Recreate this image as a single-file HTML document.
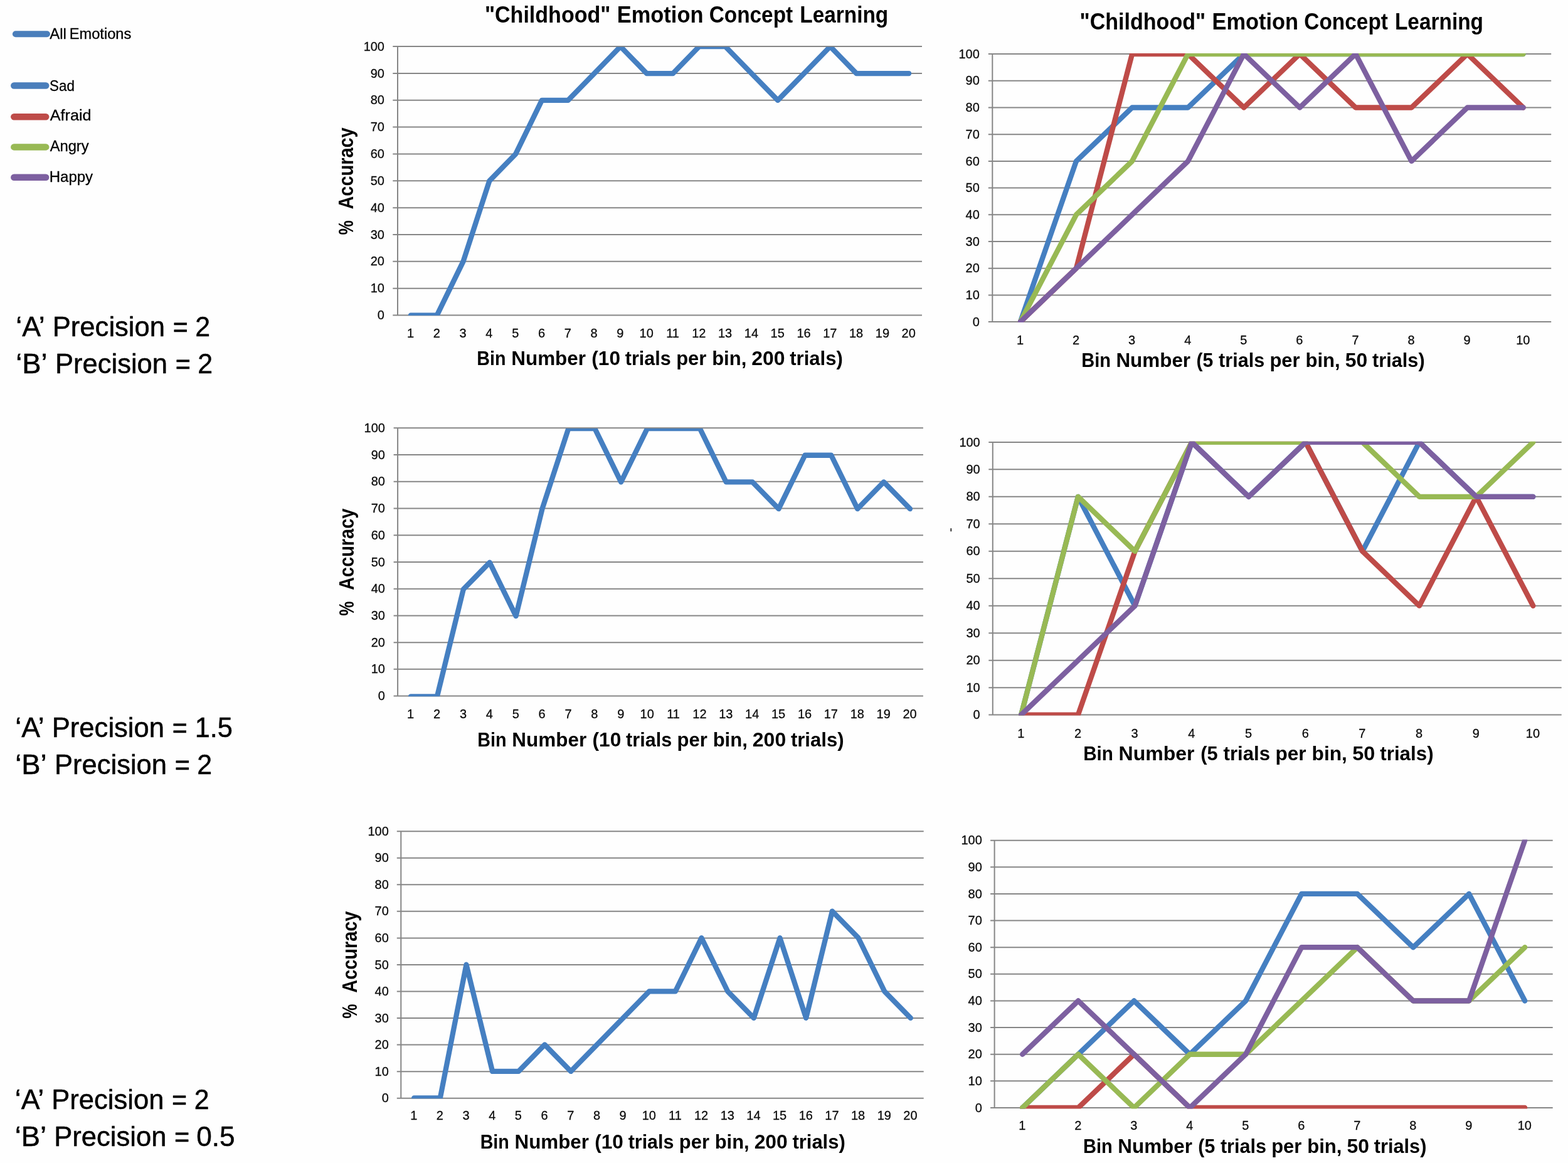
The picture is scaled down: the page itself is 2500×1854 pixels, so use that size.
<!DOCTYPE html>
<html lang="en"><head><meta charset="utf-8"><title>Childhood Emotion Concept Learning</title>
<style>
html,body{margin:0;padding:0;background:#fff;}
body{width:2500px;height:1854px;overflow:hidden;}
svg{display:block;}
text{white-space:pre;}
</style></head><body>
<svg width="2500" height="1854" viewBox="0 0 2500 1854" font-family="'Liberation Sans', Arial, Helvetica, sans-serif">
<rect width="2500" height="1854" fill="#fefefe"/>
<path d="M626.3 502.5H1470M626.3 459.66H1470M626.3 416.82H1470M626.3 373.98H1470M626.3 331.14H1470M626.3 288.3H1470M626.3 245.46H1470M626.3 202.62H1470M626.3 159.78H1470M626.3 116.94H1470M626.3 74.1H1470M634 74.1V502.5" stroke="#868686" stroke-width="2" fill="none"/>
<clipPath id="c1"><rect x="634" y="74.7" width="836" height="428.4"/></clipPath>
<g clip-path="url(#c1)" fill="none" stroke-width="8.3" stroke-linejoin="round" stroke-linecap="round">
<polyline points="654.9,502.6 696.7,502.6 738.5,416.92 780.3,288.4 822.1,245.56 863.9,159.88 905.7,159.88 947.5,117.04 989.3,74.2 1031.1,117.04 1072.9,117.04 1114.7,74.2 1156.5,74.2 1198.3,117.04 1240.1,159.88 1281.9,117.04 1323.7,74.2 1365.5,117.04 1407.3,117.04 1449.1,117.04" stroke="#457fc1"/>
</g>
<g font-size="21" fill="#0a0a0a" stroke="#0a0a0a" stroke-width="0.3" text-anchor="end">
<text transform="translate(612.95,509.1) scale(0.95,1)">0</text>
<text transform="translate(612.95,466.26) scale(0.95,1)">10</text>
<text transform="translate(612.95,423.42) scale(0.95,1)">20</text>
<text transform="translate(612.95,380.58) scale(0.95,1)">30</text>
<text transform="translate(612.95,337.74) scale(0.95,1)">40</text>
<text transform="translate(612.95,294.9) scale(0.95,1)">50</text>
<text transform="translate(612.95,252.06) scale(0.95,1)">60</text>
<text transform="translate(612.95,209.22) scale(0.95,1)">70</text>
<text transform="translate(612.95,166.38) scale(0.95,1)">80</text>
<text transform="translate(612.95,123.54) scale(0.95,1)">90</text>
<text transform="translate(612.95,80.7) scale(0.95,1)">100</text>
</g>
<g font-size="21" fill="#0a0a0a" stroke="#0a0a0a" stroke-width="0.3" text-anchor="middle">
<text transform="translate(654.5,538.2) scale(0.95,1)">1</text>
<text transform="translate(696.3,538.2) scale(0.95,1)">2</text>
<text transform="translate(738.1,538.2) scale(0.95,1)">3</text>
<text transform="translate(779.9,538.2) scale(0.95,1)">4</text>
<text transform="translate(821.7,538.2) scale(0.95,1)">5</text>
<text transform="translate(863.5,538.2) scale(0.95,1)">6</text>
<text transform="translate(905.3,538.2) scale(0.95,1)">7</text>
<text transform="translate(947.1,538.2) scale(0.95,1)">8</text>
<text transform="translate(988.9,538.2) scale(0.95,1)">9</text>
<text transform="translate(1030.7,538.2) scale(0.95,1)">10</text>
<text transform="translate(1072.5,538.2) scale(0.95,1)">11</text>
<text transform="translate(1114.3,538.2) scale(0.95,1)">12</text>
<text transform="translate(1156.1,538.2) scale(0.95,1)">13</text>
<text transform="translate(1197.9,538.2) scale(0.95,1)">14</text>
<text transform="translate(1239.7,538.2) scale(0.95,1)">15</text>
<text transform="translate(1281.5,538.2) scale(0.95,1)">16</text>
<text transform="translate(1323.3,538.2) scale(0.95,1)">17</text>
<text transform="translate(1365.1,538.2) scale(0.95,1)">18</text>
<text transform="translate(1406.9,538.2) scale(0.95,1)">19</text>
<text transform="translate(1448.7,538.2) scale(0.95,1)">20</text>
</g>
<path d="M1575.8 513.1H2473.2M1575.8 470.4H2473.2M1575.8 427.7H2473.2M1575.8 385H2473.2M1575.8 342.3H2473.2M1575.8 299.6H2473.2M1575.8 256.9H2473.2M1575.8 214.2H2473.2M1575.8 171.5H2473.2M1575.8 128.8H2473.2M1575.8 86.1H2473.2M1582.3 86.1V513.1" stroke="#868686" stroke-width="2" fill="none"/>
<clipPath id="c2"><rect x="1582.3" y="85" width="890.9" height="429.1"/></clipPath>
<g clip-path="url(#c2)" fill="none" stroke-width="8.3" stroke-linejoin="round" stroke-linecap="round">
<polyline points="1626.85,513.1 1715.93,256.9 1805.02,171.5 1894.11,171.5 1983.2,86.1 2072.3,86.1 2161.38,86.1 2250.47,86.1 2339.56,86.1 2428.65,86.1" stroke="#457fc1"/>
<polyline points="1626.85,513.1 1715.93,427.7 1805.02,86.1 1894.11,86.1 1983.2,171.5 2072.3,86.1 2161.38,171.5 2250.47,171.5 2339.56,86.1 2428.65,171.5" stroke="#be4b48"/>
<polyline points="1626.85,513.1 1715.93,342.3 1805.02,256.9 1894.11,86.1 1983.2,86.1 2072.3,86.1 2161.38,86.1 2250.47,86.1 2339.56,86.1 2428.65,86.1" stroke="#98b954"/>
<polyline points="1626.85,513.1 1715.93,427.7 1805.02,342.3 1894.11,256.9 1983.2,86.1 2072.3,171.5 2161.38,86.1 2250.47,256.9 2339.56,171.5 2428.65,171.5" stroke="#7d60a0"/>
</g>
<g font-size="21" fill="#0a0a0a" stroke="#0a0a0a" stroke-width="0.3" text-anchor="end">
<text transform="translate(1561.75,519.7) scale(0.95,1)">0</text>
<text transform="translate(1561.75,477) scale(0.95,1)">10</text>
<text transform="translate(1561.75,434.3) scale(0.95,1)">20</text>
<text transform="translate(1561.75,391.6) scale(0.95,1)">30</text>
<text transform="translate(1561.75,348.9) scale(0.95,1)">40</text>
<text transform="translate(1561.75,306.2) scale(0.95,1)">50</text>
<text transform="translate(1561.75,263.5) scale(0.95,1)">60</text>
<text transform="translate(1561.75,220.8) scale(0.95,1)">70</text>
<text transform="translate(1561.75,178.1) scale(0.95,1)">80</text>
<text transform="translate(1561.75,135.4) scale(0.95,1)">90</text>
<text transform="translate(1561.75,92.7) scale(0.95,1)">100</text>
</g>
<g font-size="21" fill="#0a0a0a" stroke="#0a0a0a" stroke-width="0.3" text-anchor="middle">
<text transform="translate(1626.44,548.6) scale(0.95,1)">1</text>
<text transform="translate(1715.53,548.6) scale(0.95,1)">2</text>
<text transform="translate(1804.62,548.6) scale(0.95,1)">3</text>
<text transform="translate(1893.71,548.6) scale(0.95,1)">4</text>
<text transform="translate(1982.8,548.6) scale(0.95,1)">5</text>
<text transform="translate(2071.89,548.6) scale(0.95,1)">6</text>
<text transform="translate(2160.98,548.6) scale(0.95,1)">7</text>
<text transform="translate(2250.07,548.6) scale(0.95,1)">8</text>
<text transform="translate(2339.16,548.6) scale(0.95,1)">9</text>
<text transform="translate(2428.25,548.6) scale(0.95,1)">10</text>
</g>
<path d="M627.6 1109.6H1471.9M627.6 1066.87H1471.9M627.6 1024.14H1471.9M627.6 981.41H1471.9M627.6 938.68H1471.9M627.6 895.95H1471.9M627.6 853.22H1471.9M627.6 810.49H1471.9M627.6 767.76H1471.9M627.6 725.03H1471.9M627.6 682.3H1471.9M634.1 682.3V1109.6" stroke="#868686" stroke-width="2" fill="none"/>
<clipPath id="c3"><rect x="634.1" y="682.9" width="837.8" height="427.3"/></clipPath>
<g clip-path="url(#c3)" fill="none" stroke-width="8.3" stroke-linejoin="round" stroke-linecap="round">
<polyline points="655.05,1110.3 696.94,1110.3 738.83,939.38 780.72,896.65 822.61,982.11 864.5,811.19 906.38,683 948.28,683 990.16,768.46 1032.06,683 1073.95,683 1115.84,683 1157.72,768.46 1199.62,768.46 1241.51,811.19 1283.39,725.73 1325.29,725.73 1367.18,811.19 1409.07,768.46 1450.95,811.19" stroke="#457fc1"/>
</g>
<g font-size="21" fill="#0a0a0a" stroke="#0a0a0a" stroke-width="0.3" text-anchor="end">
<text transform="translate(613.85,1116.2) scale(0.95,1)">0</text>
<text transform="translate(613.85,1073.47) scale(0.95,1)">10</text>
<text transform="translate(613.85,1030.74) scale(0.95,1)">20</text>
<text transform="translate(613.85,988.01) scale(0.95,1)">30</text>
<text transform="translate(613.85,945.28) scale(0.95,1)">40</text>
<text transform="translate(613.85,902.55) scale(0.95,1)">50</text>
<text transform="translate(613.85,859.82) scale(0.95,1)">60</text>
<text transform="translate(613.85,817.09) scale(0.95,1)">70</text>
<text transform="translate(613.85,774.36) scale(0.95,1)">80</text>
<text transform="translate(613.85,731.63) scale(0.95,1)">90</text>
<text transform="translate(613.85,688.9) scale(0.95,1)">100</text>
</g>
<g font-size="21" fill="#0a0a0a" stroke="#0a0a0a" stroke-width="0.3" text-anchor="middle">
<text transform="translate(654.65,1145.1) scale(0.95,1)">1</text>
<text transform="translate(696.54,1145.1) scale(0.95,1)">2</text>
<text transform="translate(738.43,1145.1) scale(0.95,1)">3</text>
<text transform="translate(780.32,1145.1) scale(0.95,1)">4</text>
<text transform="translate(822.21,1145.1) scale(0.95,1)">5</text>
<text transform="translate(864.1,1145.1) scale(0.95,1)">6</text>
<text transform="translate(905.99,1145.1) scale(0.95,1)">7</text>
<text transform="translate(947.88,1145.1) scale(0.95,1)">8</text>
<text transform="translate(989.76,1145.1) scale(0.95,1)">9</text>
<text transform="translate(1031.65,1145.1) scale(0.95,1)">10</text>
<text transform="translate(1073.55,1145.1) scale(0.95,1)">11</text>
<text transform="translate(1115.43,1145.1) scale(0.95,1)">12</text>
<text transform="translate(1157.32,1145.1) scale(0.95,1)">13</text>
<text transform="translate(1199.21,1145.1) scale(0.95,1)">14</text>
<text transform="translate(1241.11,1145.1) scale(0.95,1)">15</text>
<text transform="translate(1282.99,1145.1) scale(0.95,1)">16</text>
<text transform="translate(1324.88,1145.1) scale(0.95,1)">17</text>
<text transform="translate(1366.78,1145.1) scale(0.95,1)">18</text>
<text transform="translate(1408.66,1145.1) scale(0.95,1)">19</text>
<text transform="translate(1450.55,1145.1) scale(0.95,1)">20</text>
</g>
<path d="M1576.3 1139.6H2489.7M1576.3 1096.13H2489.7M1576.3 1052.66H2489.7M1576.3 1009.19H2489.7M1576.3 965.72H2489.7M1576.3 922.25H2489.7M1576.3 878.78H2489.7M1576.3 835.31H2489.7M1576.3 791.84H2489.7M1576.3 748.37H2489.7M1576.3 704.9H2489.7M1582.8 704.9V1139.6" stroke="#868686" stroke-width="2" fill="none"/>
<clipPath id="c4"><rect x="1582.8" y="703.8" width="906.9" height="436.8"/></clipPath>
<g clip-path="url(#c4)" fill="none" stroke-width="8.3" stroke-linejoin="round" stroke-linecap="round">
<polyline points="1628.14,1139.6 1718.84,791.84 1809.52,965.72 1900.21,704.9 1990.9,791.84 2081.59,704.9 2172.28,878.78 2262.97,704.9 2353.66,791.84 2444.35,791.84" stroke="#457fc1"/>
<polyline points="1628.14,1139.6 1718.84,1139.6 1809.52,878.78 1900.21,704.9 1990.9,704.9 2081.59,704.9 2172.28,878.78 2262.97,965.72 2353.66,791.84 2444.35,965.72" stroke="#be4b48"/>
<polyline points="1628.14,1139.6 1718.84,791.84 1809.52,878.78 1900.21,704.9 1990.9,704.9 2081.59,704.9 2172.28,704.9 2262.97,791.84 2353.66,791.84 2444.35,704.9" stroke="#98b954"/>
<polyline points="1628.14,1139.6 1718.84,1052.66 1809.52,965.72 1900.21,704.9 1990.9,791.84 2081.59,704.9 2172.28,704.9 2262.97,704.9 2353.66,791.84 2444.35,791.84" stroke="#7d60a0"/>
</g>
<g font-size="21" fill="#0a0a0a" stroke="#0a0a0a" stroke-width="0.3" text-anchor="end">
<text transform="translate(1562.65,1146.2) scale(0.95,1)">0</text>
<text transform="translate(1562.65,1102.73) scale(0.95,1)">10</text>
<text transform="translate(1562.65,1059.26) scale(0.95,1)">20</text>
<text transform="translate(1562.65,1015.79) scale(0.95,1)">30</text>
<text transform="translate(1562.65,972.32) scale(0.95,1)">40</text>
<text transform="translate(1562.65,928.85) scale(0.95,1)">50</text>
<text transform="translate(1562.65,885.38) scale(0.95,1)">60</text>
<text transform="translate(1562.65,841.91) scale(0.95,1)">70</text>
<text transform="translate(1562.65,798.44) scale(0.95,1)">80</text>
<text transform="translate(1562.65,754.97) scale(0.95,1)">90</text>
<text transform="translate(1562.65,711.5) scale(0.95,1)">100</text>
</g>
<g font-size="21" fill="#0a0a0a" stroke="#0a0a0a" stroke-width="0.3" text-anchor="middle">
<text transform="translate(1627.74,1175.5) scale(0.95,1)">1</text>
<text transform="translate(1718.43,1175.5) scale(0.95,1)">2</text>
<text transform="translate(1809.12,1175.5) scale(0.95,1)">3</text>
<text transform="translate(1899.81,1175.5) scale(0.95,1)">4</text>
<text transform="translate(1990.5,1175.5) scale(0.95,1)">5</text>
<text transform="translate(2081.19,1175.5) scale(0.95,1)">6</text>
<text transform="translate(2171.88,1175.5) scale(0.95,1)">7</text>
<text transform="translate(2262.57,1175.5) scale(0.95,1)">8</text>
<text transform="translate(2353.26,1175.5) scale(0.95,1)">9</text>
<text transform="translate(2443.95,1175.5) scale(0.95,1)">10</text>
</g>
<path d="M632.8 1750.7H1472.7M632.8 1708.15H1472.7M632.8 1665.6H1472.7M632.8 1623.05H1472.7M632.8 1580.5H1472.7M632.8 1537.95H1472.7M632.8 1495.4H1472.7M632.8 1452.85H1472.7M632.8 1410.3H1472.7M632.8 1367.75H1472.7M632.8 1325.2H1472.7M639.3 1325.2V1750.7" stroke="#868686" stroke-width="2" fill="none"/>
<clipPath id="c5"><rect x="639.3" y="1325.8" width="833.4" height="425.5"/></clipPath>
<g clip-path="url(#c5)" fill="none" stroke-width="8.3" stroke-linejoin="round" stroke-linecap="round">
<polyline points="660.13,1750.5 701.8,1750.5 743.47,1537.75 785.14,1707.95 826.81,1707.95 868.48,1665.4 910.15,1707.95 951.83,1665.4 993.49,1622.85 1035.16,1580.3 1076.84,1580.3 1118.51,1495.2 1160.17,1580.3 1201.85,1622.85 1243.51,1495.2 1285.18,1622.85 1326.86,1452.65 1368.53,1495.2 1410.19,1580.3 1451.87,1622.85" stroke="#457fc1"/>
</g>
<g font-size="21" fill="#0a0a0a" stroke="#0a0a0a" stroke-width="0.3" text-anchor="end">
<text transform="translate(619.75,1757.3) scale(0.95,1)">0</text>
<text transform="translate(619.75,1714.75) scale(0.95,1)">10</text>
<text transform="translate(619.75,1672.2) scale(0.95,1)">20</text>
<text transform="translate(619.75,1629.65) scale(0.95,1)">30</text>
<text transform="translate(619.75,1587.1) scale(0.95,1)">40</text>
<text transform="translate(619.75,1544.55) scale(0.95,1)">50</text>
<text transform="translate(619.75,1502) scale(0.95,1)">60</text>
<text transform="translate(619.75,1459.45) scale(0.95,1)">70</text>
<text transform="translate(619.75,1416.9) scale(0.95,1)">80</text>
<text transform="translate(619.75,1374.35) scale(0.95,1)">90</text>
<text transform="translate(619.75,1331.8) scale(0.95,1)">100</text>
</g>
<g font-size="21" fill="#0a0a0a" stroke="#0a0a0a" stroke-width="0.3" text-anchor="middle">
<text transform="translate(659.74,1785.1) scale(0.95,1)">1</text>
<text transform="translate(701.4,1785.1) scale(0.95,1)">2</text>
<text transform="translate(743.07,1785.1) scale(0.95,1)">3</text>
<text transform="translate(784.75,1785.1) scale(0.95,1)">4</text>
<text transform="translate(826.41,1785.1) scale(0.95,1)">5</text>
<text transform="translate(868.08,1785.1) scale(0.95,1)">6</text>
<text transform="translate(909.75,1785.1) scale(0.95,1)">7</text>
<text transform="translate(951.43,1785.1) scale(0.95,1)">8</text>
<text transform="translate(993.09,1785.1) scale(0.95,1)">9</text>
<text transform="translate(1034.76,1785.1) scale(0.95,1)">10</text>
<text transform="translate(1076.43,1785.1) scale(0.95,1)">11</text>
<text transform="translate(1118.11,1785.1) scale(0.95,1)">12</text>
<text transform="translate(1159.77,1785.1) scale(0.95,1)">13</text>
<text transform="translate(1201.44,1785.1) scale(0.95,1)">14</text>
<text transform="translate(1243.11,1785.1) scale(0.95,1)">15</text>
<text transform="translate(1284.78,1785.1) scale(0.95,1)">16</text>
<text transform="translate(1326.45,1785.1) scale(0.95,1)">17</text>
<text transform="translate(1368.12,1785.1) scale(0.95,1)">18</text>
<text transform="translate(1409.79,1785.1) scale(0.95,1)">19</text>
<text transform="translate(1451.46,1785.1) scale(0.95,1)">20</text>
</g>
<path d="M1579.1 1766H2475.7M1579.1 1723.37H2475.7M1579.1 1680.74H2475.7M1579.1 1638.11H2475.7M1579.1 1595.48H2475.7M1579.1 1552.85H2475.7M1579.1 1510.22H2475.7M1579.1 1467.59H2475.7M1579.1 1424.96H2475.7M1579.1 1382.33H2475.7M1579.1 1339.7H2475.7M1585.6 1339.7V1766" stroke="#868686" stroke-width="2" fill="none"/>
<clipPath id="c6"><rect x="1585.6" y="1338.6" width="890.1" height="429"/></clipPath>
<g clip-path="url(#c6)" fill="none" stroke-width="8.3" stroke-linejoin="round" stroke-linecap="round">
<polyline points="1630.11,1766 1719.11,1680.74 1808.12,1595.48 1897.13,1680.74 1986.14,1595.48 2075.15,1424.96 2164.16,1424.96 2253.17,1510.22 2342.18,1424.96 2431.19,1595.48" stroke="#457fc1"/>
<polyline points="1630.11,1766 1719.11,1766 1808.12,1680.74 1897.13,1766 1986.14,1766 2075.15,1766 2164.16,1766 2253.17,1766 2342.18,1766 2431.19,1766" stroke="#be4b48"/>
<polyline points="1630.11,1766 1719.11,1680.74 1808.12,1766 1897.13,1680.74 1986.14,1680.74 2075.15,1595.48 2164.16,1510.22 2253.17,1595.48 2342.18,1595.48 2431.19,1510.22" stroke="#98b954"/>
<polyline points="1630.11,1680.74 1719.11,1595.48 1808.12,1680.74 1897.13,1766 1986.14,1680.74 2075.15,1510.22 2164.16,1510.22 2253.17,1595.48 2342.18,1595.48 2431.19,1339.7" stroke="#7d60a0"/>
</g>
<g font-size="21" fill="#0a0a0a" stroke="#0a0a0a" stroke-width="0.3" text-anchor="end">
<text transform="translate(1565.75,1772.6) scale(0.95,1)">0</text>
<text transform="translate(1565.75,1729.97) scale(0.95,1)">10</text>
<text transform="translate(1565.75,1687.34) scale(0.95,1)">20</text>
<text transform="translate(1565.75,1644.71) scale(0.95,1)">30</text>
<text transform="translate(1565.75,1602.08) scale(0.95,1)">40</text>
<text transform="translate(1565.75,1559.45) scale(0.95,1)">50</text>
<text transform="translate(1565.75,1516.82) scale(0.95,1)">60</text>
<text transform="translate(1565.75,1474.19) scale(0.95,1)">70</text>
<text transform="translate(1565.75,1431.56) scale(0.95,1)">80</text>
<text transform="translate(1565.75,1388.93) scale(0.95,1)">90</text>
<text transform="translate(1565.75,1346.3) scale(0.95,1)">100</text>
</g>
<g font-size="21" fill="#0a0a0a" stroke="#0a0a0a" stroke-width="0.3" text-anchor="middle">
<text transform="translate(1629.7,1801.3) scale(0.95,1)">1</text>
<text transform="translate(1718.71,1801.3) scale(0.95,1)">2</text>
<text transform="translate(1807.72,1801.3) scale(0.95,1)">3</text>
<text transform="translate(1896.73,1801.3) scale(0.95,1)">4</text>
<text transform="translate(1985.74,1801.3) scale(0.95,1)">5</text>
<text transform="translate(2074.75,1801.3) scale(0.95,1)">6</text>
<text transform="translate(2163.76,1801.3) scale(0.95,1)">7</text>
<text transform="translate(2252.77,1801.3) scale(0.95,1)">8</text>
<text transform="translate(2341.78,1801.3) scale(0.95,1)">9</text>
<text transform="translate(2430.79,1801.3) scale(0.95,1)">10</text>
</g>
<rect x="1515.4" y="842.2" width="1.8" height="5" fill="#222"/>
<g fill="#000" font-weight="bold" aria-label="&quot;Childhood&quot; Emotion Concept Learning">
<text transform="translate(772.89,35.7) scale(0.9438,1)" font-size="36.07">&quot;Childhood&quot;</text>
<text transform="translate(983.78,35.7) scale(0.9542,1)" font-size="36.07">Emotion</text>
<text transform="translate(1130.66,35.7) scale(0.9256,1)" font-size="36.07">Concept</text>
<text transform="translate(1275.24,35.7) scale(0.9265,1)" font-size="36.07">Learning</text>
</g>
<g fill="#000" font-weight="bold" aria-label="&quot;Childhood&quot; Emotion Concept Learning">
<text transform="translate(1721.59,47.2) scale(0.9438,1)" font-size="36.07">&quot;Childhood&quot;</text>
<text transform="translate(1932.48,47.2) scale(0.9542,1)" font-size="36.07">Emotion</text>
<text transform="translate(2079.36,47.2) scale(0.9256,1)" font-size="36.07">Concept</text>
<text transform="translate(2223.94,47.2) scale(0.9265,1)" font-size="36.07">Learning</text>
</g>
<g fill="#000" font-weight="bold" aria-label="Bin Number (10 trials per bin, 200 trials)">
<text transform="translate(760.26,581.9) scale(0.9363,1)" font-size="30.69">Bin</text>
<text transform="translate(815.28,581.9) scale(1.0240,1)" font-size="30.69">Number</text>
<text transform="translate(943.32,581.9) scale(1.0316,1)" font-size="30.69">(10</text>
<text transform="translate(996.82,581.9) scale(0.9953,1)" font-size="30.69">trials</text>
<text transform="translate(1078.19,581.9) scale(1.0100,1)" font-size="30.69">per</text>
<text transform="translate(1135.18,581.9) scale(1.0102,1)" font-size="30.69">bin,</text>
<text transform="translate(1198.28,581.9) scale(1.0394,1)" font-size="30.69">200</text>
<text transform="translate(1259.21,581.9) scale(1.0118,1)" font-size="30.69">trials)</text>
</g>
<g fill="#000" font-weight="bold" aria-label="Bin Number (5 trials per bin, 50 trials)">
<text transform="translate(1724.14,585.1) scale(0.9340,1)" font-size="31.13">Bin</text>
<text transform="translate(1779.38,585.1) scale(1.0096,1)" font-size="31.13">Number</text>
<text transform="translate(1907.49,585.1) scale(0.9717,1)" font-size="31.13">(5</text>
<text transform="translate(1943.12,585.1) scale(0.9827,1)" font-size="31.13">trials</text>
<text transform="translate(2024.39,585.1) scale(0.9959,1)" font-size="31.13">per</text>
<text transform="translate(2081.38,585.1) scale(0.9999,1)" font-size="31.13">bin,</text>
<text transform="translate(2144.84,585.1) scale(1.0256,1)" font-size="31.13">50</text>
<text transform="translate(2188.02,585.1) scale(0.9867,1)" font-size="31.13">trials)</text>
</g>
<g fill="#000" font-weight="bold" aria-label="Bin Number (10 trials per bin, 200 trials)">
<text transform="translate(761.16,1189.6) scale(0.9333,1)" font-size="30.84">Bin</text>
<text transform="translate(816.26,1189.6) scale(1.0207,1)" font-size="30.84">Number</text>
<text transform="translate(944.5,1189.6) scale(1.0283,1)" font-size="30.84">(10</text>
<text transform="translate(998.08,1189.6) scale(0.9921,1)" font-size="30.84">trials</text>
<text transform="translate(1079.58,1189.6) scale(1.0068,1)" font-size="30.84">per</text>
<text transform="translate(1136.66,1189.6) scale(1.0070,1)" font-size="30.84">bin,</text>
<text transform="translate(1199.86,1189.6) scale(1.0361,1)" font-size="30.84">200</text>
<text transform="translate(1260.88,1189.6) scale(1.0086,1)" font-size="30.84">trials)</text>
</g>
<g fill="#000" font-weight="bold" aria-label="Bin Number (5 trials per bin, 50 trials)">
<text transform="translate(1727.2,1212.3) scale(0.9437,1)" font-size="31.42">Bin</text>
<text transform="translate(1783.54,1212.3) scale(1.0201,1)" font-size="31.42">Number</text>
<text transform="translate(1914.19,1212.3) scale(0.9818,1)" font-size="31.42">(5</text>
<text transform="translate(1950.53,1212.3) scale(0.9929,1)" font-size="31.42">trials</text>
<text transform="translate(2033.41,1212.3) scale(1.0062,1)" font-size="31.42">per</text>
<text transform="translate(2091.53,1212.3) scale(1.0103,1)" font-size="31.42">bin,</text>
<text transform="translate(2156.26,1212.3) scale(1.0362,1)" font-size="31.42">50</text>
<text transform="translate(2200.29,1212.3) scale(0.9970,1)" font-size="31.42">trials)</text>
</g>
<g fill="#000" font-weight="bold" aria-label="Bin Number (10 trials per bin, 200 trials)">
<text transform="translate(765.67,1830.5) scale(0.9340,1)" font-size="30.69">Bin</text>
<text transform="translate(820.55,1830.5) scale(1.0215,1)" font-size="30.69">Number</text>
<text transform="translate(948.28,1830.5) scale(1.0291,1)" font-size="30.69">(10</text>
<text transform="translate(1001.65,1830.5) scale(0.9929,1)" font-size="30.69">trials</text>
<text transform="translate(1082.82,1830.5) scale(1.0076,1)" font-size="30.69">per</text>
<text transform="translate(1139.68,1830.5) scale(1.0077,1)" font-size="30.69">bin,</text>
<text transform="translate(1202.63,1830.5) scale(1.0369,1)" font-size="30.69">200</text>
<text transform="translate(1263.41,1830.5) scale(1.0093,1)" font-size="30.69">trials)</text>
</g>
<g fill="#000" font-weight="bold" aria-label="Bin Number (5 trials per bin, 50 trials)">
<text transform="translate(1727.04,1837.7) scale(0.9425,1)" font-size="30.84">Bin</text>
<text transform="translate(1782.26,1837.7) scale(1.0188,1)" font-size="30.84">Number</text>
<text transform="translate(1910.32,1837.7) scale(0.9805,1)" font-size="30.84">(5</text>
<text transform="translate(1945.94,1837.7) scale(0.9916,1)" font-size="30.84">trials</text>
<text transform="translate(2027.18,1837.7) scale(1.0049,1)" font-size="30.84">per</text>
<text transform="translate(2084.15,1837.7) scale(1.0090,1)" font-size="30.84">bin,</text>
<text transform="translate(2147.59,1837.7) scale(1.0349,1)" font-size="30.84">50</text>
<text transform="translate(2190.75,1837.7) scale(0.9957,1)" font-size="30.84">trials)</text>
</g>
<g fill="#000" font-weight="bold" aria-label="%  Accuracy">
<text transform="translate(563.1,374.55) rotate(-90) scale(0.8062,1)" font-size="32.44">%</text>
<text transform="translate(563.1,333.52) rotate(-90) scale(0.8913,1)" font-size="32.44">Accuracy</text>
</g>
<g fill="#000" font-weight="bold" aria-label="%  Accuracy">
<text transform="translate(563.7,981.85) rotate(-90) scale(0.8062,1)" font-size="32.44">%</text>
<text transform="translate(563.7,940.82) rotate(-90) scale(0.8913,1)" font-size="32.44">Accuracy</text>
</g>
<g fill="#000" font-weight="bold" aria-label="%  Accuracy">
<text transform="translate(569.3,1623.75) rotate(-90) scale(0.8062,1)" font-size="32.44">%</text>
<text transform="translate(569.3,1582.72) rotate(-90) scale(0.8913,1)" font-size="32.44">Accuracy</text>
</g>
<line x1="24.9" y1="54.3" x2="74.9" y2="54.3" stroke="#4a7ebb" stroke-width="10" stroke-linecap="round"/>
<g fill="#000" stroke="#000" stroke-width="0.3" stroke-linejoin="round" aria-label="All Emotions">
<text transform="translate(79.24,61.8) scale(1.0369,1)" font-size="23.13">All</text>
<text transform="translate(110.75,61.8) scale(1.0217,1)" font-size="23.13">Emotions</text>
</g>
<line x1="22.35" y1="136.5" x2="73.15" y2="136.5" stroke="#4a7ebb" stroke-width="10.5" stroke-linecap="round"/>
<g fill="#000" stroke="#000" stroke-width="0.3" stroke-linejoin="round">
<text transform="translate(78.99,144.5) scale(0.9165,1)" font-size="24.44">Sad</text>
</g>
<line x1="22.35" y1="186.2" x2="73.15" y2="186.2" stroke="#be4b48" stroke-width="10.5" stroke-linecap="round"/>
<g fill="#000" stroke="#000" stroke-width="0.3" stroke-linejoin="round">
<text transform="translate(79.64,192.4) scale(1.0339,1)" font-size="24.44">Afraid</text>
</g>
<line x1="22.35" y1="234.4" x2="73.15" y2="234.4" stroke="#98b954" stroke-width="10.5" stroke-linecap="round"/>
<g fill="#000" stroke="#000" stroke-width="0.3" stroke-linejoin="round">
<text transform="translate(79.64,241) scale(0.9715,1)" font-size="24.44">Angry</text>
</g>
<line x1="22.35" y1="282.7" x2="73.15" y2="282.7" stroke="#7d60a0" stroke-width="10.5" stroke-linecap="round"/>
<g fill="#000" stroke="#000" stroke-width="0.3" stroke-linejoin="round">
<text transform="translate(78.72,290.4) scale(0.9819,1)" font-size="24.44">Happy</text>
</g>
<g fill="#000" stroke="#000" stroke-width="0.5" stroke-linejoin="round" aria-label="‘A’ Precision = 2">
<text transform="translate(25.31,535.9) scale(0.9916,1)" font-size="45.09">‘A’</text>
<text transform="translate(83.8,535.9) scale(0.9665,1)" font-size="45.09">Precision</text>
<text transform="translate(275.64,535.9) scale(0.9145,1)" font-size="45.09">=</text>
<text transform="translate(311.36,535.9) scale(0.9505,1)" font-size="45.09">2</text>
</g>
<g fill="#000" stroke="#000" stroke-width="0.5" stroke-linejoin="round" aria-label="‘B’ Precision = 2">
<text transform="translate(25.26,594.7) scale(1.0061,1)" font-size="45.09">‘B’</text>
<text transform="translate(87.91,594.7) scale(0.9660,1)" font-size="45.09">Precision</text>
<text transform="translate(279.63,594.7) scale(0.9191,1)" font-size="45.09">=</text>
<text transform="translate(315.36,594.7) scale(0.9505,1)" font-size="45.09">2</text>
</g>
<g fill="#000" stroke="#000" stroke-width="0.5" stroke-linejoin="round" aria-label="‘A’ Precision = 1.5">
<text transform="translate(24.31,1174.7) scale(0.9916,1)" font-size="45.09">‘A’</text>
<text transform="translate(82.8,1174.7) scale(0.9665,1)" font-size="45.09">Precision</text>
<text transform="translate(274.64,1174.7) scale(0.9145,1)" font-size="45.09">=</text>
<text transform="translate(310.65,1174.7) scale(0.9619,1)" font-size="45.09">1.5</text>
</g>
<g fill="#000" stroke="#000" stroke-width="0.5" stroke-linejoin="round" aria-label="‘B’ Precision = 2">
<text transform="translate(24.26,1233.7) scale(1.0061,1)" font-size="45.09">‘B’</text>
<text transform="translate(86.91,1233.7) scale(0.9660,1)" font-size="45.09">Precision</text>
<text transform="translate(278.63,1233.7) scale(0.9191,1)" font-size="45.09">=</text>
<text transform="translate(314.36,1233.7) scale(0.9505,1)" font-size="45.09">2</text>
</g>
<g fill="#000" stroke="#000" stroke-width="0.5" stroke-linejoin="round" aria-label="‘A’ Precision = 2">
<text transform="translate(23.71,1768.3) scale(0.9916,1)" font-size="45.09">‘A’</text>
<text transform="translate(82.2,1768.3) scale(0.9665,1)" font-size="45.09">Precision</text>
<text transform="translate(274.04,1768.3) scale(0.9145,1)" font-size="45.09">=</text>
<text transform="translate(309.76,1768.3) scale(0.9505,1)" font-size="45.09">2</text>
</g>
<g fill="#000" stroke="#000" stroke-width="0.5" stroke-linejoin="round" aria-label="‘B’ Precision = 0.5">
<text transform="translate(23.66,1827.3) scale(1.0061,1)" font-size="45.09">‘B’</text>
<text transform="translate(86.31,1827.3) scale(0.9660,1)" font-size="45.09">Precision</text>
<text transform="translate(278.03,1827.3) scale(0.9191,1)" font-size="45.09">=</text>
<text transform="translate(313.34,1827.3) scale(0.9785,1)" font-size="45.09">0.5</text>
</g>
</svg>
</body></html>
